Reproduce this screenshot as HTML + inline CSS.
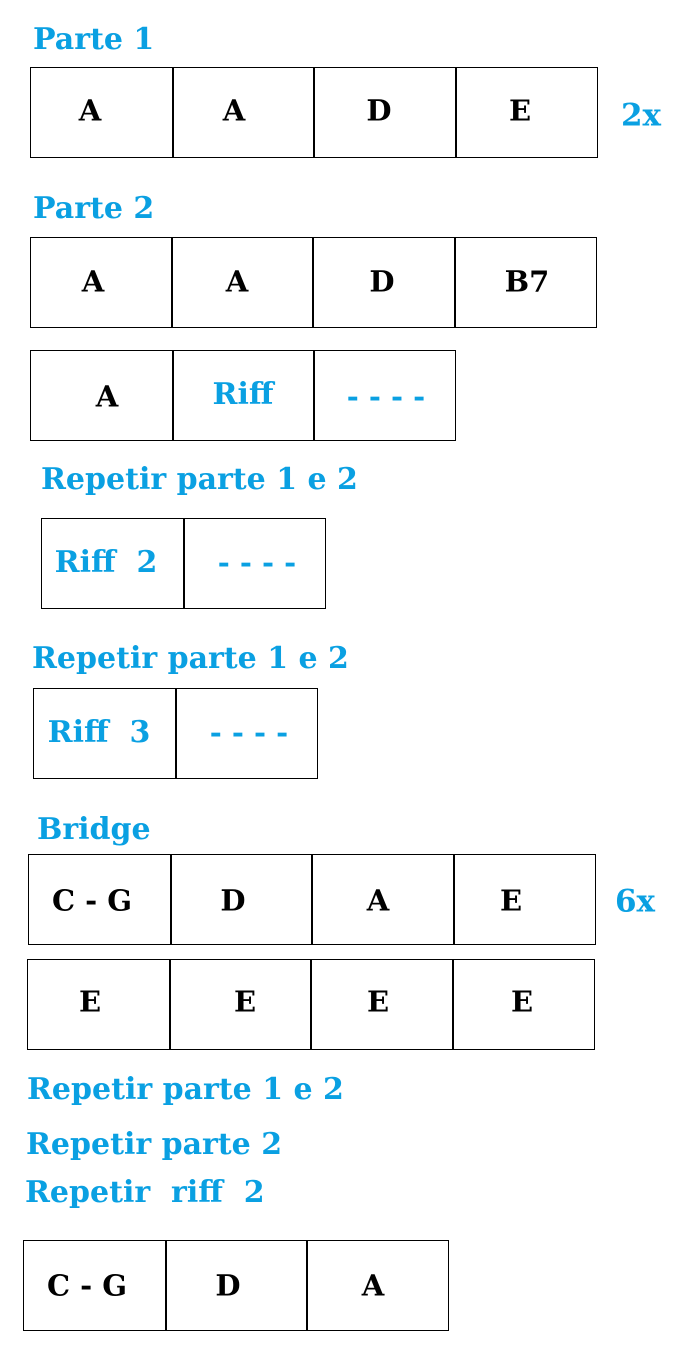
<!DOCTYPE html>
<html><head><meta charset="utf-8"><style>
body{margin:0;width:692px;height:1372px;background:#fff;position:relative;overflow:hidden;font-family:"DejaVu Serif","Liberation Serif",serif;font-weight:bold}
.b{position:absolute;border:1.5px solid #000;box-sizing:border-box}
.v{position:absolute;width:1.5px;background:#000}
.c{position:absolute;transform:translate(-50%,-50%);font-size:29px;color:#000;white-space:pre;line-height:1}
.bl{color:#0aa0e2}
.h{position:absolute;font-size:30px;color:#0aa0e2;white-space:pre;line-height:1;transform:translateY(-50%)}
</style></head><body>
<div class="h" style="left:33px;top:40px">Parte 1</div>
<div class="b" style="left:30px;top:67px;width:568px;height:91px"></div>
<div class="v" style="left:172px;top:67px;height:91px"></div>
<div class="v" style="left:313px;top:67px;height:91px"></div>
<div class="v" style="left:455px;top:67px;height:91px"></div>
<div class="c" style="left:90px;top:111px">A</div><div class="c" style="left:234px;top:111px">A</div><div class="c" style="left:379px;top:111px">D</div><div class="c" style="left:520px;top:111px">E</div>
<div class="c bl" style="left:641px;top:116px;font-size:31px">2x</div>

<div class="h" style="left:33px;top:209px">Parte 2</div>
<div class="b" style="left:30px;top:237px;width:567px;height:91px"></div>
<div class="v" style="left:171px;top:237px;height:91px"></div>
<div class="v" style="left:312px;top:237px;height:91px"></div>
<div class="v" style="left:454px;top:237px;height:91px"></div>
<div class="c" style="left:93px;top:282px">A</div><div class="c" style="left:237px;top:282px">A</div><div class="c" style="left:382px;top:282px">D</div><div class="c" style="left:527px;top:282px">B7</div>

<div class="b" style="left:30px;top:350px;width:426px;height:91px"></div>
<div class="v" style="left:172px;top:350px;height:91px"></div>
<div class="v" style="left:313px;top:350px;height:91px"></div>
<div class="c" style="left:107px;top:397px">A</div>
<div class="c bl" style="left:243px;top:395px;font-size:30px">Riff</div>
<div class="c bl" style="left:386px;top:397px">- - - -</div>

<div class="h" style="left:41px;top:480px">Repetir parte 1 e 2</div>
<div class="b" style="left:41px;top:518px;width:285px;height:91px"></div>
<div class="v" style="left:183px;top:518px;height:91px"></div>
<div class="c bl" style="left:106px;top:563px;font-size:30px">Riff  2</div>
<div class="c bl" style="left:257px;top:563px">- - - -</div>

<div class="h" style="left:32px;top:659px">Repetir parte 1 e 2</div>
<div class="b" style="left:33px;top:688px;width:285px;height:91px"></div>
<div class="v" style="left:175px;top:688px;height:91px"></div>
<div class="c bl" style="left:99px;top:733px;font-size:30px">Riff  3</div>
<div class="c bl" style="left:249px;top:733px">- - - -</div>

<div class="h" style="left:37px;top:830px">Bridge</div>
<div class="b" style="left:28px;top:854px;width:568px;height:91px"></div>
<div class="v" style="left:170px;top:854px;height:91px"></div>
<div class="v" style="left:311px;top:854px;height:91px"></div>
<div class="v" style="left:453px;top:854px;height:91px"></div>
<div class="c" style="left:92px;top:901px">C - G</div><div class="c" style="left:233px;top:901px">D</div><div class="c" style="left:378px;top:901px">A</div><div class="c" style="left:511px;top:901px">E</div>
<div class="c bl" style="left:635px;top:902px;font-size:31px">6x</div>

<div class="b" style="left:27px;top:959px;width:568px;height:91px"></div>
<div class="v" style="left:169px;top:959px;height:91px"></div>
<div class="v" style="left:310px;top:959px;height:91px"></div>
<div class="v" style="left:452px;top:959px;height:91px"></div>
<div class="c" style="left:90px;top:1002px">E</div><div class="c" style="left:245px;top:1002px">E</div><div class="c" style="left:378px;top:1002px">E</div><div class="c" style="left:522px;top:1002px">E</div>

<div class="h" style="left:27px;top:1090px">Repetir parte 1 e 2</div>
<div class="h" style="left:26px;top:1145px">Repetir parte 2</div>
<div class="h" style="left:25px;top:1193px">Repetir  riff  2</div>

<div class="b" style="left:23px;top:1240px;width:426px;height:91px"></div>
<div class="v" style="left:165px;top:1240px;height:91px"></div>
<div class="v" style="left:306px;top:1240px;height:91px"></div>
<div class="c" style="left:87px;top:1286px">C - G</div><div class="c" style="left:228px;top:1286px">D</div><div class="c" style="left:373px;top:1286px">A</div>
</body></html>
